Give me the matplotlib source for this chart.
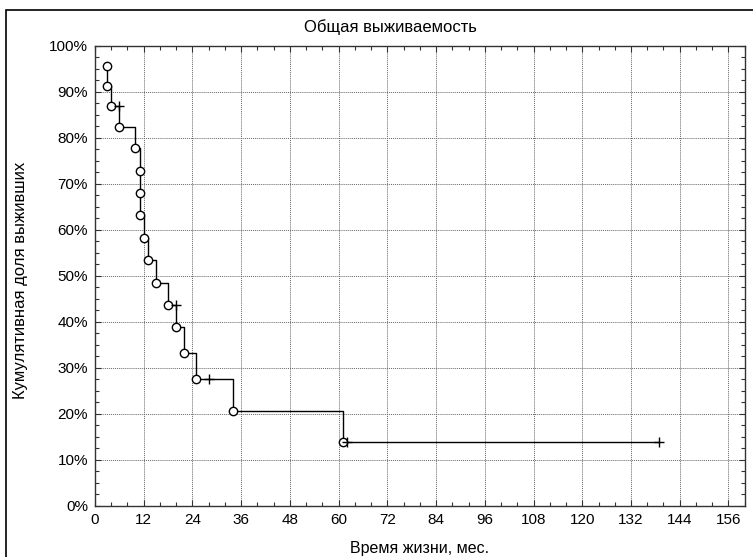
import matplotlib
matplotlib.use('Agg')
import matplotlib.pyplot as plt
from matplotlib.ticker import MultipleLocator, PercentFormatter
from matplotlib.patches import Rectangle

plt.rcParams['font.family'] = ['Liberation Sans', 'DejaVu Sans']

# Данные (месяцы, доля выживших)
event_months = [3.0, 3.0, 4.0, 6.0, 10.0, 11.0, 11.0, 11.0, 12.0, 13.0,
                15.0, 18.0, 20.0, 22.0, 25.0, 34.0, 61.0]
event_surv = [0.9565, 0.913, 0.8696, 0.824, 0.778, 0.729, 0.680, 0.632, 0.583, 0.534,
              0.485, 0.437, 0.388, 0.333, 0.277, 0.207, 0.138]
censor_months = [6.0, 20.0, 28.0, 62.0, 139.0]
censor_surv = [0.8696, 0.437, 0.277, 0.138, 0.138]

TITLE = 'Общая выживаемость'
X_LABEL = 'Время жизни, мес.'
Y_LABEL = 'Кумулятивная доля выживших'

# общий ступенчатый путь: события и цензурирования по времени
# (при совпадении времени сначала цензурирование, потом событие)
points = [(t, 0, s) for t, s in zip(censor_months, censor_surv)]
points += [(t, 1, s) for t, s in zip(event_months, event_surv)]
points.sort(key=lambda p: (p[0], p[1], -p[2]))
step_x = [p[0] for p in points]
step_y = [p[2] for p in points]

fig = plt.figure(figsize=(7.53, 5.57), dpi=100)
ax = fig.add_axes([0.126, 0.0916, 0.863, 0.826])

ax.step(step_x, step_y, where='post', color='black', linewidth=1.0, zorder=3)
ax.plot(event_months, event_surv, 'o', markersize=6, markerfacecolor='white',
        markeredgecolor='black', markeredgewidth=1.0, zorder=4)
ax.plot(censor_months, censor_surv, '+', markersize=7, color='black',
        markeredgewidth=1.0, zorder=4)

ax.set_xlim(0, 160)
ax.set_ylim(0, 1)
ax.xaxis.set_major_locator(MultipleLocator(12))
ax.xaxis.set_minor_locator(MultipleLocator(4))
ax.yaxis.set_major_locator(MultipleLocator(0.1))
ax.yaxis.set_minor_locator(MultipleLocator(0.025))
ax.yaxis.set_major_formatter(PercentFormatter(1.0, decimals=0))

ax.tick_params(which='both', direction='in', top=True, right=True, labelsize=11,
               color='#333333')
ax.tick_params(which='major', length=4, width=0.8, pad=5)
ax.tick_params(which='minor', length=3, width=0.8)
ax.grid(True, which='major', linestyle=(0, (1, 1)), color='#666666', linewidth=0.7)
for sp in ax.spines.values():
    sp.set_linewidth(1.0)
    sp.set_color('#333333')

# заголовок центрирован по исходному полотну, а не по осям
fig.text(390 / 753, 1 - 27 / 557, TITLE, fontsize=12, ha='center', va='center')
ax.set_xlabel(X_LABEL, fontsize=11.5)
ax.xaxis.set_label_coords(0.5, -0.076)
ax.set_ylabel(Y_LABEL, fontsize=12)
ax.yaxis.set_label_coords(-0.103, 0.49)

# рамка вокруг рисунка (видна слева и сверху)
fig.patches.append(Rectangle((0.008, -0.2), 1.3, 0.982 + 0.2, transform=fig.transFigure,
                             fill=False, edgecolor='black', linewidth=1.2))

fig.savefig('out.png', dpi=100)
